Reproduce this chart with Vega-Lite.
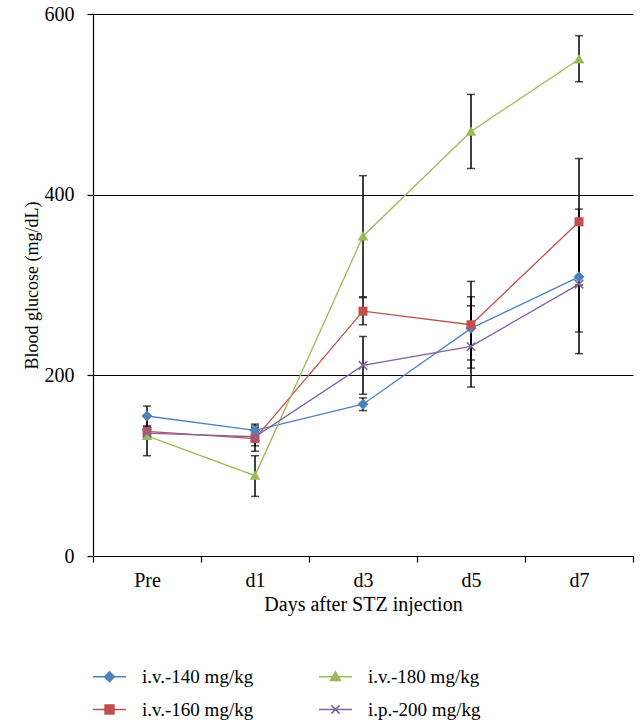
{
  "$schema": "https://vega.github.io/schema/vega-lite/v6.json",
  "width": 540,
  "height": 542,
  "autosize": "none",
  "padding": {"left": 93, "top": 14, "right": 8, "bottom": 167},
  "background": "white",
  "config": {
    "view": {"stroke": null},
    "font": "Liberation Serif",
    "axis": {"domainColor": "black", "tickColor": "black", "labelColor": "black", "titleColor": "black", "labelFont": "Liberation Serif", "titleFont": "Liberation Serif", "labelFontSize": 20, "titleFontSize": 20, "titleFontWeight": "normal", "domainWidth": 1.2, "tickWidth": 1.2}
  },
  "data": {
    "values": [
      {"series": "i.v.-140 mg/kg", "day": "Pre", "value": 155, "lo": 144, "hi": 166},
      {"series": "i.v.-140 mg/kg", "day": "d1", "value": 139, "lo": 132, "hi": 146},
      {"series": "i.v.-140 mg/kg", "day": "d3", "value": 168, "lo": 161, "hi": 175},
      {"series": "i.v.-140 mg/kg", "day": "d5", "value": 252, "lo": 217, "hi": 287},
      {"series": "i.v.-140 mg/kg", "day": "d7", "value": 309, "lo": 248, "hi": 370},
      {"series": "i.v.-160 mg/kg", "day": "Pre", "value": 138, "lo": 133, "hi": 143},
      {"series": "i.v.-160 mg/kg", "day": "d1", "value": 130, "lo": 116, "hi": 144},
      {"series": "i.v.-160 mg/kg", "day": "d3", "value": 271, "lo": 256, "hi": 286},
      {"series": "i.v.-160 mg/kg", "day": "d5", "value": 256, "lo": 208, "hi": 304},
      {"series": "i.v.-160 mg/kg", "day": "d7", "value": 370, "lo": 300, "hi": 440},
      {"series": "i.v.-180 mg/kg", "day": "Pre", "value": 133, "lo": 111, "hi": 155},
      {"series": "i.v.-180 mg/kg", "day": "d1", "value": 89, "lo": 66, "hi": 111},
      {"series": "i.v.-180 mg/kg", "day": "d3", "value": 354, "lo": 287, "hi": 421},
      {"series": "i.v.-180 mg/kg", "day": "d5", "value": 470, "lo": 429, "hi": 511},
      {"series": "i.v.-180 mg/kg", "day": "d7", "value": 550, "lo": 525, "hi": 576},
      {"series": "i.p.-200 mg/kg", "day": "Pre", "value": 136, "lo": 131, "hi": 141},
      {"series": "i.p.-200 mg/kg", "day": "d1", "value": 132, "lo": 122, "hi": 142},
      {"series": "i.p.-200 mg/kg", "day": "d3", "value": 211, "lo": 179, "hi": 243},
      {"series": "i.p.-200 mg/kg", "day": "d5", "value": 232, "lo": 187, "hi": 277},
      {"series": "i.p.-200 mg/kg", "day": "d7", "value": 301, "lo": 224, "hi": 384}
    ]
  },
  "encoding": {
    "x": {
      "field": "day", "type": "ordinal", "sort": ["Pre", "d1", "d3", "d5", "d7"],
      "scale": {"type": "band", "paddingInner": 0, "paddingOuter": 0},
      "axis": {"title": "Days after STZ injection", "labelAngle": 0, "tickBand": "extent", "tickSize": 6, "labelPadding": 8, "titlePadding": 4}
    },
    "color": {"field": "series", "type": "nominal",
      "scale": {"domain": ["i.v.-140 mg/kg", "i.v.-160 mg/kg", "i.v.-180 mg/kg", "i.p.-200 mg/kg"], "range": ["#4F81BD", "#C0504D", "#9BBB59", "#8064A2"]},
      "legend": {
        "title": null, "orient": "none", "legendX": -1, "legendY": 645, "columns": 2, "columnPadding": 62, "rowPadding": 5, "padding": 0,
        "labelFont": "Liberation Serif", "labelFontSize": 19, "labelColor": "black", "labelOffset": 15, "labelLimit": 300,
        "symbolSize": 1089, "symbolStrokeWidth": 1.5,
        "encode": {"symbols": {"update": {
          "shape": {"signal": "datum.value === 'i.v.-140 mg/kg' ? 'M-1,0H1M0,-0.3L0.3,0L0,0.3L-0.3,0Z' : datum.value === 'i.v.-180 mg/kg' ? 'M-1,0H1M0,-0.3L0.3,0.22H-0.3Z' : datum.value === 'i.v.-160 mg/kg' ? 'M-1,0H1M-0.27,-0.27H0.27V0.27H-0.27Z' : 'M-1,0H1M-0.25,-0.25L0.25,0.25M-0.25,0.25L0.25,-0.25'"},
          "fill": {"scale": "color", "field": "value"},
          "stroke": {"scale": "color", "field": "value"},
          "strokeWidth": {"value": 1.5},
          "opacity": {"value": 1}
        }}}
      }
    }
  },
  "layer": [
    {
      "mark": {"type": "line", "strokeWidth": 1.3},
      "encoding": {
        "y": {"field": "value", "type": "quantitative", "scale": {"domain": [0, 600], "nice": false},
          "axis": {"title": "Blood glucose (mg/dL)", "titleFontSize": 18, "values": [0, 200, 400, 600], "grid": true, "gridColor": "black", "gridWidth": 1.2, "gridOpacity": 1, "tickSize": 6, "labelPadding": 13, "titlePadding": 3}}
      }
    },
    {
      "mark": {"type": "rule", "strokeWidth": 1.5},
      "encoding": {"y": {"field": "lo", "type": "quantitative"}, "y2": {"field": "hi"}, "color": {"value": "black"}}
    },
    {
      "mark": {"type": "tick", "size": 8, "thickness": 1.5, "orient": "horizontal"},
      "encoding": {"y": {"field": "lo", "type": "quantitative"}, "color": {"value": "black"}}
    },
    {
      "mark": {"type": "tick", "size": 8, "thickness": 1.5, "orient": "horizontal"},
      "encoding": {"y": {"field": "hi", "type": "quantitative"}, "color": {"value": "black"}}
    },
    {
      "transform": [{"filter": "datum.series === 'i.v.-140 mg/kg'"}],
      "mark": {"type": "point", "filled": true, "size": 100, "opacity": 1, "shape": "M0,-1.1L1.1,0L0,1.1L-1.1,0Z"},
      "encoding": {"y": {"field": "value", "type": "quantitative"}}
    },
    {
      "transform": [{"filter": "datum.series === 'i.v.-160 mg/kg'"}],
      "mark": {"type": "point", "filled": true, "size": 100, "opacity": 1, "shape": "M-0.9,-0.9H0.9V0.9H-0.9Z"},
      "encoding": {"y": {"field": "value", "type": "quantitative"}}
    },
    {
      "transform": [{"filter": "datum.series === 'i.v.-180 mg/kg'"}],
      "mark": {"type": "point", "filled": true, "size": 100, "opacity": 1, "shape": "M0,-1.05L1.05,0.85H-1.05Z"},
      "encoding": {"y": {"field": "value", "type": "quantitative"}}
    },
    {
      "transform": [{"filter": "datum.series === 'i.p.-200 mg/kg'"}],
      "mark": {"type": "point", "filled": false, "size": 100, "opacity": 1, "strokeWidth": 1.5, "shape": "M-0.85,-0.85L0.85,0.85M-0.85,0.85L0.85,-0.85"},
      "encoding": {"y": {"field": "value", "type": "quantitative"}}
    }
  ]
}
